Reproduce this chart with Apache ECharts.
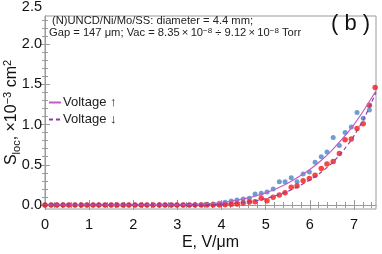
<!DOCTYPE html>
<html><head><meta charset="utf-8">
<script src="https://cdn.jsdelivr.net/npm/echarts@6/dist/echarts.min.js"></script>
<style>html,body{margin:0;padding:0;background:#fff}#c{width:382px;height:254px}</style>
</head><body><div id="c"></div>
<script>
// Field, V/um (20 V steps over a 147 um gap)
const fieldE = [0,0.14,0.27,0.41,0.54,0.68,0.82,0.95,1.09,1.22,1.36,1.50,1.63,1.77,1.90,2.04,2.18,2.31,2.45,2.59,2.72,2.86,2.99,3.13,3.27,3.40,3.54,3.67,3.81,3.95,4.08,4.22,4.35,4.49,4.63,4.76,4.90,5.03,5.17,5.31,5.44,5.58,5.71,5.85,5.99,6.12,6.26,6.39,6.53,6.67,6.80,6.94,7.07,7.21,7.35,7.48];
// Voltage up (blue dots)
const sUp = [0,0,0,0,0,0,0,0,0,0,0,0,0,0,0,0,0,0,0,0,0,0,0,0,0,0.002,0.004,0.008,0.013,0.02,0.033,0.05,0.062,0.074,0.083,0.137,0.145,0.16,0.20,0.29,0.29,0.34,0.29,0.385,0.41,0.53,0.60,0.66,0.84,0.74,0.90,0.97,1.15,1.08,1.18,'-'];
// Voltage down (red dots)
const sDown = [0,0,0,0,0,0,0,0,0,0,0,0,0,0,0,0,0,0,0,0,0,0,0,0,0,0,0,0,0,0,0.004,0.008,0.012,0.025,0.037,0.041,0.083,0.053,0.095,0.124,0.153,0.22,0.236,0.30,0.33,0.37,0.455,0.51,0.54,0.64,0.81,0.82,0.95,1.01,1.24,1.46];
// Fit curves
const fitUpE = [0,1,2,3,3.25,3.5,3.75,4,4.25,4.5,4.75,5,5.25,5.5,5.75,6,6.25,6.5,6.75,7,7.25,7.5];
const fitUpS = [0,0,0,0.002,0.005,0.01,0.018,0.03,0.05,0.075,0.108,0.15,0.205,0.27,0.35,0.44,0.55,0.68,0.83,1.00,1.20,1.42];
const fitDownE = [0,1,2,3,3.25,3.5,3.75,4,4.25,4.5,4.75,5,5.25,5.5,5.75,6,6.25,6.5,6.75,7,7.25,7.5];
const fitDownS = [0,0,0,0,0,0.001,0.004,0.008,0.017,0.03,0.05,0.08,0.12,0.17,0.235,0.31,0.405,0.52,0.67,0.86,1.10,1.40];
// Tick labels
const xTicks = [0,1,2,3,4,5,6,7];
const xMinor = [0.2,0.4,0.6,0.8,1.2,1.4,1.6,1.8,2.2,2.4,2.6,2.8,3.2,3.4,3.6,3.8,4.2,4.4,4.6,4.8,5.2,5.4,5.6,5.8,6.2,6.4,6.6,6.8,7.2,7.4];
const yTicks = [0,0.5,1,1.5,2];
const yMinor = [0.1,0.2,0.3,0.4,0.6,0.7,0.8,0.9,1.1,1.2,1.3,1.4,1.6,1.7,1.8,1.9,2.1,2.2,2.3];
const yTopLabel = 2.5;

const pairs = (xs, ys) => xs.map((x, i) => [x, ys[i]]);
const FONT = 'Liberation Sans';
const frame = '#9a9a9a';

const chart = echarts.init(document.getElementById('c'), null, {renderer: 'canvas'});
const xBase = {type:'value', min:0, max:7.5, gridIndex:0};
const yBase = {type:'value', min:-0.05, max:2.35, gridIndex:0};
const tickAxis = (base, pos, vals, len, withLine) => Object.assign({}, base, {
  position:pos,
  axisLine:{show:withLine, lineStyle:{color:frame}},
  axisTick:{show:true, inside:true, length:len, customValues:vals, lineStyle:{color:frame}},
  axisLabel:{show:false}, splitLine:{show:false}
});
chart.setOption({
  animation:false,
  textStyle:{fontFamily:FONT},
  grid:{left:45, right:6, top:16, bottom:45, containLabel:false, outerBoundsMode:'none',
        show:true, borderColor:frame, borderWidth:1},
  title:[
    {text:'(N)UNCD/Ni/Mo/SS: diameter = 4.4 mm;', left:52, top:15, padding:0,
     textStyle:{fontSize:11.2, fontWeight:'normal', color:'#222', fontFamily:FONT}},
    {text:'Gap = 147 μm; Vac = 8.35\u2009×\u200910{sup|−8} ÷ 9.12\u2009×\u200910{sup|−8} Torr', left:49, top:27, padding:0,
     textStyle:{fontSize:11.2, fontWeight:'normal', color:'#222', fontFamily:FONT,
       rich:{sup:{fontSize:8, verticalAlign:'top', lineHeight:8, fontFamily:FONT, color:'#222'}}}},
    {text:'( b )', left:331, top:13, padding:0,
     textStyle:{fontSize:22, fontWeight:'normal', color:'#111', fontFamily:FONT}}
  ],
  legend:{
    data:['Voltage ↑','Voltage ↓'], orient:'vertical', left:48, top:96,
    itemWidth:12, itemHeight:8, itemGap:4, padding:0,
    itemStyle:{opacity:0},
    textStyle:{fontSize:13, color:'#222', fontFamily:FONT, padding:[0,0,0,-3]}
  },
  xAxis:[
    Object.assign({}, xBase, {
      position:'bottom',
      name:'E, V/μm', nameLocation:'middle', nameGap:26, nameMoveOverlap:false,
      nameTextStyle:{fontSize:16, color:'#111', fontFamily:FONT},
      axisLine:{show:true, lineStyle:{color:frame}},
      axisTick:{show:true, inside:true, length:5, customValues:xTicks, lineStyle:{color:frame}},
      axisLabel:{fontSize:14.5, color:'#111', margin:8, customValues:xTicks, fontFamily:FONT},
      splitLine:{show:false}
    }),
    tickAxis(xBase, 'top', xTicks, 5, true),
    tickAxis(xBase, 'bottom', xMinor, 3, false),
    tickAxis(xBase, 'top', xMinor, 3, false)
  ],
  yAxis:[
    Object.assign({}, yBase, {
      position:'left',
      name:'{s|S}{sub|loc}{t|, ×10}{sup|−3}{t| cm}{sup|2}', nameLocation:'middle', nameGap:23,
      nameMoveOverlap:false,
      nameTextStyle:{fontFamily:FONT, color:'#111',
        rich:{
          s:{fontSize:16, lineHeight:20, fontFamily:FONT, color:'#111'},
          t:{fontSize:16, lineHeight:20, fontFamily:FONT, color:'#111'},
          sub:{fontSize:11, lineHeight:10, verticalAlign:'bottom', fontFamily:FONT, color:'#111'},
          sup:{fontSize:11, lineHeight:10, verticalAlign:'top', fontFamily:FONT, color:'#111'}
        }},
      axisLine:{show:true, lineStyle:{color:frame}},
      axisTick:{show:true, inside:true, length:5, customValues:yTicks, lineStyle:{color:frame}},
      axisLabel:{fontSize:14.5, color:'#111', margin:3, customValues:yTicks, fontFamily:FONT,
        formatter:v => v.toFixed(1)},
      splitLine:{show:false}
    }),
    tickAxis(yBase, 'right', yTicks, 5, true),
    tickAxis(yBase, 'left', yMinor, 3, false),
    tickAxis(yBase, 'right', yMinor, 3, false)
  ],
  series:[
    {name:'up pts', type:'scatter', data:pairs(fieldE, sUp), symbolSize:5,
     itemStyle:{color:'#4a84c4'}, z:2},
    {name:'down pts', type:'scatter', data:pairs(fieldE, sDown), symbolSize:5.5,
     itemStyle:{color:'#f41818'}, z:3},
    {name:'Voltage ↑', type:'line', data:pairs(fitUpE, fitUpS), smooth:0.3,
     symbol:'none', lineStyle:{color:'#c25cc8', width:1.2, type:'solid'}, itemStyle:{color:'#c25cc8'}, z:4},
    {name:'Voltage ↓', type:'line', data:pairs(fitDownE, fitDownS), smooth:0.3,
     symbol:'none', lineStyle:{color:'#8a3ea6', width:1.2, type:[4,3]}, itemStyle:{color:'#8a3ea6'}, z:4}
  ]
});
const py = chart.convertToPixel({yAxisIndex:0}, yTopLabel);
const px = chart.convertToPixel({xAxisIndex:0}, 0);
chart.setOption({graphic:[{type:'text', x:px-3, y:Math.max(py, 7),
  style:{text:yTopLabel.toFixed(1), align:'right', verticalAlign:'middle', fontSize:14.5, fill:'#111', fontFamily:FONT}}]});
</script></body></html>
